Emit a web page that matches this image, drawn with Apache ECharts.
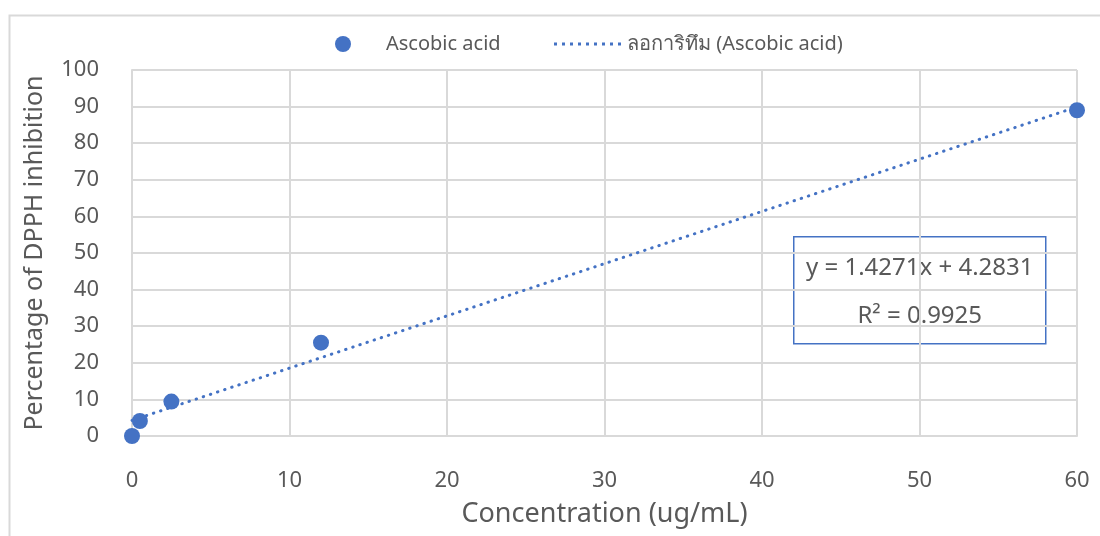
<!DOCTYPE html>
<html>
<head>
<meta charset="utf-8">
<script src="https://cdn.jsdelivr.net/npm/echarts@6/dist/echarts.min.js"></script>
<style>
  html, body { margin: 0; padding: 0; background: #fff; }
  #chart { width: 1100px; height: 536px; }
</style>
</head>
<body>
<div id="chart"></div>
<script>
// measured points (concentration ug/mL, % inhibition)
const concentration = [0, 0.5, 2.5, 12, 60]
const inhibition = [0, 4.1, 9.4, 25.5, 89]

// linear trendline end points, y = 1.4271x + 4.2831
const trendX = [0, 60]
const trendY = [4.28, 89.91]

const xTicks = [0, 10, 20, 30, 40, 50, 60]
const yTicks = [0, 10, 20, 30, 40, 50, 60, 70, 80, 90, 100]

const equationText = 'y = 1.4271x + 4.2831'
const r2Text = 'R² = 0.9925'

const blue = '#4472C4'
const textGray = '#595959'
const gridGray = '#d9d9d9'
const font = '"Noto Sans", sans-serif'

// dotted legend icon for the trendline
let dots = ''
for (let i = 0; i < 9; i++) {
  const x = i * 8
  dots += `M${x} 0h3v3h-${3}z`
}

const chart = echarts.init(document.getElementById('chart'))

const option = {
  animation: false,
  textStyle: { fontFamily: font },
  grid: { left: 132, right: 23, top: 70, bottom: 100 },
  legend: [
    {
      data: ['Ascobic acid'],
      left: 330,
      top: 29,
      itemWidth: 16,
      itemHeight: 16,
      textStyle: { color: textGray, fontSize: 20, fontFamily: font, padding: [0, 0, 0, 30] }
    },
    {
      data: [{ name: 'ลอการิทึม (Ascobic acid)', icon: 'path://' + dots }],
      left: 549,
      top: 29,
      itemWidth: 69,
      itemHeight: 3,
      textStyle: { color: textGray, fontSize: 20, fontFamily: font }
    }
  ],
  xAxis: {
    type: 'value',
    min: xTicks[0],
    max: xTicks[xTicks.length - 1],
    interval: 10,
    name: 'Concentration (ug/mL)',
    nameLocation: 'middle',
    nameGap: 65,
    nameTextStyle: { color: textGray, fontSize: 27, fontFamily: font },
    axisLine: { show: true, lineStyle: { color: gridGray, width: 2 } },
    axisTick: { show: false },
    axisLabel: { color: textGray, fontSize: 22, margin: 34, fontFamily: font },
    splitLine: { show: true, lineStyle: { color: gridGray, width: 2 } }
  },
  yAxis: {
    type: 'value',
    min: yTicks[0],
    max: yTicks[yTicks.length - 1],
    interval: 10,
    name: 'Percentage of DPPH inhibition',
    nameLocation: 'middle',
    nameGap: 85,
    nameTextStyle: { color: textGray, fontSize: 25, fontFamily: font },
    axisLine: { show: true, lineStyle: { color: gridGray, width: 2 } },
    axisTick: { show: false },
    axisLabel: { color: textGray, fontSize: 22, margin: 33, fontFamily: font },
    splitLine: { show: true, lineStyle: { color: gridGray, width: 2 } }
  },
  series: [
    {
      name: 'ลอการิทึม (Ascobic acid)',
      type: 'line',
      data: trendX.map((x, i) => [x, trendY[i]]),
      symbol: 'none',
      lineStyle: { color: blue, width: 3, type: [0.5, 7], cap: 'round' },
      itemStyle: { color: blue },
      z: 2
    },
    {
      name: 'Ascobic acid',
      type: 'scatter',
      data: concentration.map((x, i) => [x, inhibition[i]]),
      symbol: 'circle',
      symbolSize: 16,
      itemStyle: { color: blue, opacity: 1 },
      z: 3
    }
  ],
  graphic: [
    {
      type: 'rect',
      left: 7,
      top: 13,
      shape: { width: 1110, height: 540 },
      style: { fill: 'none', stroke: '#d9d9d9', lineWidth: 2 },
      silent: true,
      z: -10
    },
    {
      type: 'group',
      left: 793,
      top: 236,
      children: [
        {
          type: 'rect',
          shape: { width: 252, height: 107 },
          style: { fill: '#fff', stroke: blue, lineWidth: 1.5 }
        },
        {
          type: 'text',
          x: 126,
          y: 31,
          style: { text: equationText, fill: textGray, font: '24px ' + font, align: 'center', verticalAlign: 'middle' }
        },
        {
          type: 'text',
          x: 126,
          y: 79,
          style: { text: r2Text, fill: textGray, font: '24px ' + font, align: 'center', verticalAlign: 'middle' }
        }
      ]
    }
  ]
}

chart.setOption(option)
</script>
</body>
</html>
